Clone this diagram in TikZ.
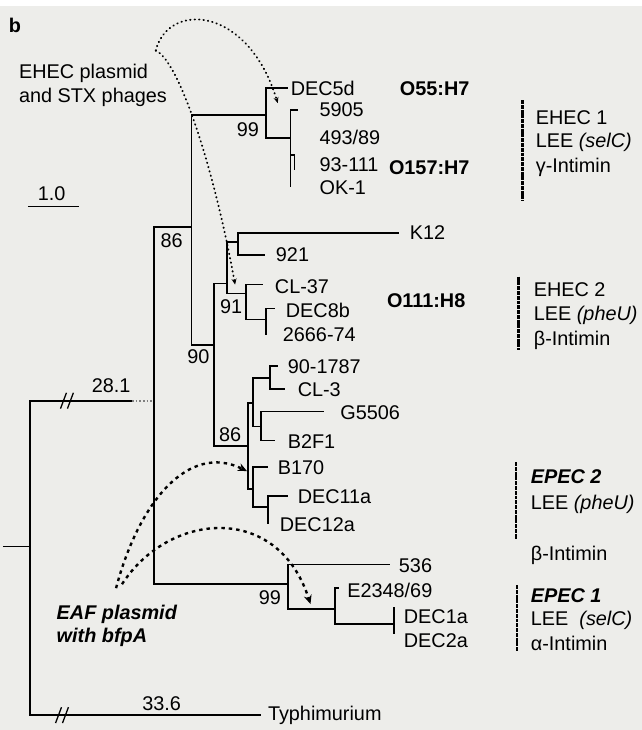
\documentclass[tikz,border=0pt]{standalone}
\usepackage{fontspec}
\setmainfont{Liberation Sans}
\usetikzlibrary{arrows.meta,positioning}
\definecolor{paper}{RGB}{237,237,234}
\newcommand{\labfont}{\fontsize{20}{24}\selectfont}
\newcommand{\handfont}{\bfseries\itshape\fontsize{20}{24}\selectfont}

\begin{document}
\begin{tikzpicture}[x=1pt,y=-1pt,
  branch/.style={line width=1.7pt},
  taxon/.style={anchor=west,inner sep=0pt,font=\labfont},
  boot/.style={inner sep=0pt,font=\labfont},
  sero/.style={anchor=west,inner sep=0pt,font=\bfseries\labfont},
  groupbar/.style={line width=2.6pt,dash pattern=on 4pt off 0.8pt},
  grouptext/.style={anchor=west,inner sep=0pt,font=\labfont},
  phage/.style={line width=1.9pt,line cap=round,dash pattern=on 0.5pt off 4pt,-{Stealth[length=6pt,width=5pt]}},
  eaf/.style={line width=2.4pt,dash pattern=on 3.5pt off 4pt,-{Stealth[length=9pt,width=8pt]}}]
\fill[paper] (0,0) rectangle (647,730);
\node[font=\bfseries\labfont] (panel) at (15,20) {b};

% inner nodes of the tree
\coordinate (root) at (30,545);
\coordinate (stub) at (3,545);
\coordinate (cut) at (133,398);
\coordinate (n1) at (155,398);
\coordinate (n2) at (193,223);
\coordinate (n3) at (268,110);
\coordinate (n4) at (293,133);
\coordinate (n5) at (216,342);
\coordinate (n6) at (229,280);
\coordinate (n7) at (240,238);
\coordinate (n8) at (248,290);
\coordinate (n9) at (268,316);
\coordinate (n10) at (250,444);
\coordinate (n11) at (255,400);
\coordinate (n12) at (272,375);
\coordinate (n13) at (263,424);
\coordinate (n14) at (255,487);
\coordinate (n15) at (270,505);
\coordinate (n16) at (290,583);
\coordinate (n17) at (338,608);
\coordinate (n18) at (397,623);
% tips
\coordinate (tTyph) at (263,715);
\coordinate (tDEC5d) at (290,83);
\coordinate (t5905) at (300,105);
\coordinate (tOK1) at (293,183);
\coordinate (tK12) at (402,229);
\coordinate (t921) at (267,251);
\coordinate (tCL37) at (265,281);
\coordinate (tDEC8b) at (277,305);
\coordinate (t2666) at (268,332);
\coordinate (t901787) at (280,363);
\coordinate (tCL3) at (287,386);
\coordinate (tG5506) at (327,409);
\coordinate (tB2F1) at (277,438);
\coordinate (tB170) at (270,465);
\coordinate (tDEC11a) at (290,494);
\coordinate (tDEC12a) at (270,522);
\coordinate (t536) at (393,563);
\coordinate (tE2348) at (342,587);
\coordinate (tDEC1a) at (397,606);
\coordinate (tDEC2a) at (397,633);

\draw[branch] (stub) -- (root);
\draw[branch] (root) |- (cut);
\draw[branch,gray,dotted] (cut) -- (n1);
\foreach \p/\c in {root/tTyph,n1/n2,n1/n16,n2/n3,n2/n5,n3/tDEC5d,n3/n4,
  n4/t5905,n4/tOK1,n5/n6,n5/n10,n6/n7,n6/n8,n7/tK12,n7/t921,n8/tCL37,n8/n9,
  n9/tDEC8b,n9/t2666,n10/n11,n10/n14,n11/n12,n11/n13,n12/t901787,n12/tCL3,
  n13/tG5506,n13/tB2F1,n14/tB170,n14/n15,n15/tDEC11a,n15/tDEC12a,
  n16/t536,n16/n17,n17/tE2348,n17/n18,n18/tDEC1a,n18/tDEC2a}
  \draw[branch] (\p) |- (\c);
\draw[branch] (293,150) -| (297,165);

% broken branches
\foreach \x in {61,68} {
  \draw[line width=1.3pt] (\x,406) -- (\x+6,390);
}
\foreach \x in {56,63} {
  \draw[line width=1.3pt] (\x,723) -- (\x+6,707);
}
\node[boot] (len1) at (112,383) {28.1};
\node[boot] (len2) at (163,703) {33.6};

% scale bar
\draw[line width=1.3pt] (28,202) -- (80,202);
\node[boot] (scale) at (52,189) {1.0};

% strains
\foreach \n/\x/\y/\t in {lTyph/270/715/Typhimurium,lDEC5d/293/83/DEC5d,
  l5905/322/105/5905,l49389/322/133/{493/89},l93111/322/160/93-111,
  lOK1/322/183/OK-1,lK12/413/229/K12,l921/278/251/921,lCL37/277/283/CL-37,
  lDEC8b/288/307/DEC8b,l2666/285/331/2666-74,l901787/290/364/90-1787,
  lCL3/300/387/CL-3,lG5506/343/410/G5506,lB2F1/290/439/B2F1,
  lB170/280/466/B170,lDEC11a/300/495/DEC11a,lDEC12a/282/523/DEC12a,
  l536/402/564/536,lE2348/350/589/{E2348/69},lDEC1a/407/616/DEC1a,
  lDEC2a/407/640/DEC2a}
  \node[taxon] (\n) at (\x,\y) {\t};

% bootstrap values
\node[boot] (bs1) at (250,125) {99};
\node[boot] (bs2) at (173,237) {86};
\node[boot] (bs3) at (233,303) {91};
\node[boot] (bs4) at (200,354) {90};
\node[boot] (bs5) at (232,432) {86};
\node[boot] (bs6) at (272,597) {99};

% serotypes
\node[sero] (s1) at (403,83) {O55:H7};
\node[sero] (s2) at (392,163) {O157:H7};
\node[sero] (s3) at (390,297) {O111:H8};

% groups
\draw[groupbar] (527,95) -- (527,197);
\node[grouptext] (g1a) at (540,113) {EHEC 1};
\node[grouptext] (g1b) at (540,138) {LEE \textit{(selC)}};
\node[grouptext] (g1c) at (540,163) {γ-Intimin};
\draw[groupbar] (523,273) -- (523,347);
\node[grouptext] (g2a) at (538,286) {EHEC 2};
\node[grouptext] (g2b) at (538,312) {LEE \textit{(pheU)}};
\node[grouptext] (g2c) at (538,337) {β-Intimin};
\draw[groupbar] (520,460) -- (520,537);
\node[grouptext,font=\handfont] (g3a) at (535,475) {EPEC 2};
\node[grouptext] (g3b) at (535,503) {LEE \textit{(pheU)}};
\node[grouptext] (g3c) at (535,554) {β-Intimin};
\draw[groupbar] (521,584) -- (521,650);
\node[grouptext,font=\handfont] (g4a) at (535,595) {EPEC 1};
\node[grouptext] (g4b) at (535,619) {LEE \ \textit{(selC)}};
\node[grouptext] (g4c) at (535,643) {α-Intimin};

% mobile elements
\node[taxon,align=left] (ehec) at (19,80) {EHEC plasmid\\and STX phages};
\coordinate (src1) at (157,45);
\draw[phage] (src1) .. controls (170,-5) and (250,0) .. (280,98);
\draw[phage] (src1) .. controls (180,55) and (215,160) .. (237,281);
\node[taxon,font=\handfont,align=left] (eafp) at (57,625) {EAF plasmid\\with bfpA};
\coordinate (src2) at (117,587);
\coordinate (src3) at (123,583);
\draw[eaf] (src2) .. controls (140,500) and (190,440) .. (249,469);
\draw[eaf] (src3) .. controls (170,510) and (280,500) .. (313,603);
\end{tikzpicture}
\end{document}
